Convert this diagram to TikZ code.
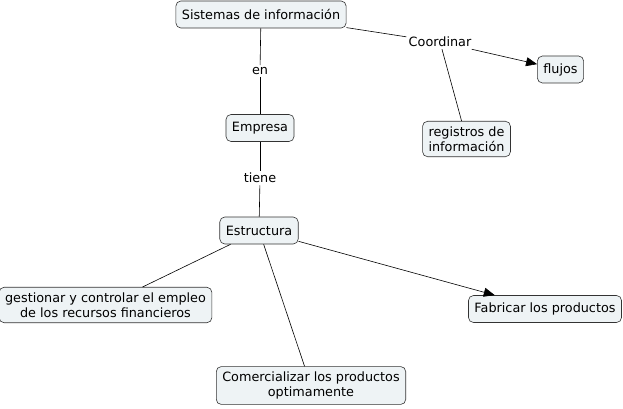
\documentclass[tikz,border=0pt]{standalone}
\usepackage{fontspec}
\setmainfont{DejaVu Sans}
\usetikzlibrary{arrows.meta}
\definecolor{boxfill}{HTML}{EEF3F5}

\begin{document}
\begin{tikzpicture}[x=1pt,y=-1pt,
    cnode/.style={draw=black!80,fill=boxfill,rounded corners=5pt,align=center,
                  minimum height=27pt,inner xsep=6pt,inner ysep=5pt,
                  font=\fontsize{12.8}{15.5}\selectfont},
    lnode/.style={fill=white,inner sep=2pt,font=\fontsize{12.8}{15.5}\selectfont},
    every path/.style={line width=0.6pt},
    >={Triangle[length=11pt,width=9pt]}]
    \useasboundingbox (0,0) rectangle (623,409);

    \node[cnode] (sis) at (261,14.5) {Sistemas de información};
    \node[cnode] (emp) at (260,128) {Empresa};
    \node[cnode] (est) at (259,230.5) {Estructura};
    \node[cnode] (flu) at (560.5,69.5) {flujos};
    \node[cnode] (reg) at (466.5,139) {registros de\\información};
    \node[cnode] (ges) at (105.5,305) {gestionar y controlar el empleo\\de los recursos financieros};
    \node[cnode] (fab) at (545,309) {Fabricar los productos};
    \node[cnode] (com) at (311,385.5) {Comercializar los productos\\optimamente};

    \node[lnode] (en) at (260,71) {en};
    \node[lnode] (tie) at (260,178) {tiene};
    \node[lnode] (coo) at (440,42) {Coordinar};

    \draw (sis) edge (en) ;
    \draw (en) edge (emp) ;
    \draw (emp) edge (tie) ;
    \draw (tie) edge (est) ;
    \draw (sis) edge (coo) ;
    \draw[->] (coo) edge (flu) ;
    \draw (coo) edge (reg) ;
    \draw (est) edge (ges) ;
    \draw (est) edge (com) ;
    \draw[->] (est) edge (fab) ;
\end{tikzpicture}
\end{document}
